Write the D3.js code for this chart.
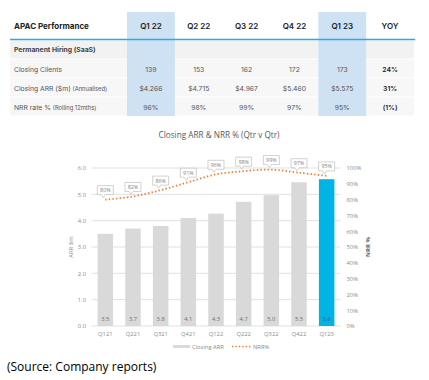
<!DOCTYPE html>
<html>
<head>
<meta charset="utf-8">
<script src="https://cdn.jsdelivr.net/npm/d3@7"></script>
<style>
  body { margin: 0; background: #fff; }
  svg { display: block; }
</style>
</head>
<body>
<div id="chart"></div>
<script>
// table data
var tableCols = ["Q1 22", "Q2 22", "Q3 22", "Q4 22", "Q1 23", "YOY"];
var highlightCols = ["Q1 22", "Q1 23"];
var clientsRow = ["139", "153", "162", "172", "173", "24%"];
var arrRow = ["$4.266", "$4.715", "$4.967", "$5.460", "$5.575", "31%"];
var nrrRow = ["96%", "98%", "99%", "97%", "95%", "(1%)"];

// chart data
var quarters = ["Q121", "Q221", "Q321", "Q421", "Q122", "Q222", "Q322", "Q422", "Q123"];
var arrValues = [3.5, 3.7, 3.8, 4.1, 4.266, 4.715, 4.967, 5.46, 5.575];
var nrrValues = [80, 82, 86, 91, 96, 98, 99, 97, 95];
var arrTicks = [0, 1, 2, 3, 4, 5, 6];
var nrrTicks = [0, 10, 20, 30, 40, 50, 60, 70, 80, 90, 100];

var width = 429, height = 380;
var tableFont = "Inter, 'Noto Sans', sans-serif";
var chartFont = "'Open Sans', 'Noto Sans', sans-serif";

var svg = d3.select("#chart").append("svg")
    .attr("width", width)
    .attr("height", height);

// ---------- table ----------
var colX = d3.scaleBand().domain(tableCols).range([127, 414]);
var rowY = d3.scaleBand().domain(["group", "clients", "arr", "nrr"]).range([40, 116]);

// row backgrounds
svg.selectAll("rect.rowbg")
    .data(rowY.domain())
    .enter().append("rect")
    .attr("x", 10)
    .attr("y", function(d) { return rowY(d) + 0.5; })
    .attr("width", 404)
    .attr("height", rowY.bandwidth() - 1)
    .attr("fill", function(d) { return d == "group" ? "#f2f2f2" : "#f7f7f7"; });

// highlighted columns
svg.selectAll("rect.hl")
    .data(highlightCols)
    .enter().append("rect")
    .attr("x", function(d) { return colX(d); })
    .attr("y", 12)
    .attr("width", colX.bandwidth())
    .attr("height", 104)
    .attr("fill", "#cfe2f3");

// header
svg.append("text")
    .attr("x", 14).attr("y", 29)
    .attr("font-family", tableFont)
    .attr("font-size", 8)
    .attr("font-weight", 700)
    .attr("fill", "#222")
    .text("APAC  Performance");

svg.selectAll("text.colhead")
    .data(tableCols)
    .enter().append("text")
    .attr("x", function(d) { return colX(d) + colX.bandwidth() / 2; })
    .attr("y", 29)
    .attr("text-anchor", "middle")
    .attr("font-family", tableFont)
    .attr("font-size", 8)
    .attr("font-weight", 600)
    .attr("fill", "#222")
    .text(function(d) { return d; });

// blue rule under header
svg.append("line")
    .attr("x1", 10).attr("x2", 415)
    .attr("y1", 39.5).attr("y2", 39.5)
    .attr("stroke", "#29abe2")
    .attr("stroke-width", 1.3);

svg.append("text")
    .attr("x", 14).attr("y", rowY("group") + 12)
    .attr("font-family", tableFont)
    .attr("font-size", 6.8)
    .attr("font-weight", 700)
    .attr("fill", "#444")
    .text("Permanent Hiring (SaaS)");

function rowLabel(key, main, sub) {
    var t = svg.append("text")
        .attr("x", 14).attr("y", rowY(key) + 12.5)
        .attr("font-family", tableFont)
        .attr("font-size", 6.8)
        .attr("fill", "#555");
    t.append("tspan").text(main);
    if (sub) t.append("tspan").attr("font-size", 5.8).text(sub);
}
rowLabel("clients", "Closing Clients");
rowLabel("arr", "Closing ARR ($m) ", "(Annualised)");
rowLabel("nrr", "NRR rate % ", "(Rolling 12mths)");

function rowValues(key, vals) {
    svg.selectAll("text.v" + key)
        .data(vals)
        .enter().append("text")
        .attr("x", function(d, i) { return colX(tableCols[i]) + colX.bandwidth() / 2; })
        .attr("y", rowY(key) + 12.5)
        .attr("text-anchor", "middle")
        .attr("font-family", tableFont)
        .attr("font-size", 6.8)
        .attr("font-weight", function(d, i) { return i == 5 ? 600 : 400; })
        .attr("fill", function(d, i) { return i == 5 ? "#222" : "#555"; })
        .text(function(d) { return d; });
}
rowValues("clients", clientsRow);
rowValues("arr", arrRow);
rowValues("nrr", nrrRow);

// ---------- chart ----------
var xScale = d3.scaleBand()
    .domain(quarters)
    .range([91.5, 340.5])
    .paddingInner(0.44)
    .paddingOuter(0.22);

var yScale = d3.scaleLinear().domain([0, 6]).range([326, 168]);
var y2Scale = d3.scaleLinear().domain([0, 100]).range([326, 168]);

// title
svg.append("text")
    .attr("x", 219).attr("y", 138)
    .attr("text-anchor", "middle")
    .attr("font-family", chartFont)
    .attr("font-size", 8.2)
    .attr("fill", "#595959")
    .text("Closing ARR & NRR % (Qtr v Qtr)");

// gridlines
svg.selectAll("line.grid")
    .data(arrTicks)
    .enter().append("line")
    .attr("x1", 91.5).attr("x2", 340.5)
    .attr("y1", function(d) { return yScale(d); })
    .attr("y2", function(d) { return yScale(d); })
    .attr("stroke", "#d9d9d9")
    .attr("stroke-width", 0.8);

// left axis
var yAxis = d3.axisLeft(yScale)
    .tickValues(arrTicks)
    .tickSize(0)
    .tickPadding(5)
    .tickFormat(d3.format(".1f"));
var gy = svg.append("g")
    .attr("transform", "translate(91,0)")
    .call(yAxis);
gy.select(".domain").remove();
gy.selectAll("text")
    .attr("font-family", chartFont)
    .attr("font-size", 5.8)
    .attr("fill", "#8c8c8c");

// right axis
var y2Axis = d3.axisRight(y2Scale)
    .tickValues(nrrTicks)
    .tickSize(0)
    .tickPadding(6)
    .tickFormat(function(d) { return d + "%"; });
var gy2 = svg.append("g")
    .attr("transform", "translate(340.5,0)")
    .call(y2Axis);
gy2.select(".domain").remove();
gy2.selectAll("text")
    .attr("font-family", chartFont)
    .attr("font-size", 5.8)
    .attr("fill", "#8c8c8c");

// x axis
var xAxis = d3.axisBottom(xScale).tickSize(0).tickPadding(6);
var gx = svg.append("g")
    .attr("transform", "translate(0,326)")
    .call(xAxis);
gx.select(".domain").remove();
gx.selectAll("text")
    .attr("font-family", chartFont)
    .attr("font-size", 5.8)
    .attr("fill", "#8c8c8c");

// axis titles
svg.append("text")
    .attr("transform", "translate(73,247) rotate(-90)")
    .attr("text-anchor", "middle")
    .attr("font-family", chartFont)
    .attr("font-size", 6)
    .attr("fill", "#8c8c8c")
    .text("ARR $m");

svg.append("text")
    .attr("transform", "translate(370,247) rotate(-90)")
    .attr("text-anchor", "middle")
    .attr("font-family", chartFont)
    .attr("font-size", 6)
    .attr("font-weight", 700)
    .attr("fill", "#666")
    .text("NRR %");

// bars
svg.selectAll("rect.bar")
    .data(arrValues)
    .enter().append("rect")
    .attr("x", function(d, i) { return xScale(quarters[i]); })
    .attr("y", function(d) { return yScale(d); })
    .attr("width", xScale.bandwidth())
    .attr("height", function(d) { return yScale(0) - yScale(d); })
    .attr("fill", function(d, i) { return i == quarters.length - 1 ? "#00b4e6" : "#d9d9d9"; });

// bar labels
svg.selectAll("text.barlabel")
    .data(arrValues)
    .enter().append("text")
    .attr("x", function(d, i) { return xScale(quarters[i]) + xScale.bandwidth() / 2; })
    .attr("y", yScale(0) - 5)
    .attr("text-anchor", "middle")
    .attr("font-family", chartFont)
    .attr("font-size", 5.8)
    .attr("fill", function(d, i) { return i == quarters.length - 1 ? "#3a5f70" : "#6f6f6f"; })
    .text(function(d) { return d.toFixed(1); });

// NRR line
var line = d3.line()
    .x(function(d, i) { return xScale(quarters[i]) + xScale.bandwidth() / 2; })
    .y(function(d) { return y2Scale(d); })
    .curve(d3.curveCatmullRom);

svg.append("path")
    .datum(nrrValues)
    .attr("fill", "none")
    .attr("stroke", "#ed7d31")
    .attr("stroke-width", 1.8)
    .attr("stroke-dasharray", "1.4,2.2")
    .attr("d", line);

// NRR callout labels
var callouts = svg.selectAll("g.callout")
    .data(nrrValues)
    .enter().append("g")
    .attr("transform", function(d, i) {
        return "translate(" + (xScale(quarters[i]) + xScale.bandwidth() / 2) + "," + y2Scale(d) + ")";
    });

callouts.append("path")
    .attr("d", "M-8,-14 L8,-14 L8,-5 L0,-5 L-2,-2 L-4,-5 L-8,-5 Z")
    .attr("fill", "#fff")
    .attr("stroke", "#bfbfbf")
    .attr("stroke-width", 0.7);

callouts.append("text")
    .attr("y", -7.5)
    .attr("text-anchor", "middle")
    .attr("font-family", chartFont)
    .attr("font-size", 5.3)
    .attr("fill", "#7f7f7f")
    .text(function(d) { return d + "%"; });

// legend
svg.append("rect")
    .attr("x", 173).attr("y", 345)
    .attr("width", 17).attr("height", 3)
    .attr("fill", "#d9d9d9");
svg.append("text")
    .attr("x", 192).attr("y", 348.5)
    .attr("font-family", chartFont)
    .attr("font-size", 5.8)
    .attr("fill", "#8c8c8c")
    .text("Closing ARR");
svg.append("line")
    .attr("x1", 232).attr("x2", 252)
    .attr("y1", 346.5).attr("y2", 346.5)
    .attr("stroke", "#ed7d31")
    .attr("stroke-width", 1.5)
    .attr("stroke-dasharray", "1.4,2");
svg.append("text")
    .attr("x", 253).attr("y", 348.5)
    .attr("font-family", chartFont)
    .attr("font-size", 5.8)
    .attr("fill", "#8c8c8c")
    .text("NRR%");

// source note
svg.append("text")
    .attr("x", 7).attr("y", 371)
    .attr("font-family", chartFont)
    .attr("font-size", 12)
    .attr("fill", "#000")
    .text("(Source: Company reports)");
</script>
</body>
</html>
